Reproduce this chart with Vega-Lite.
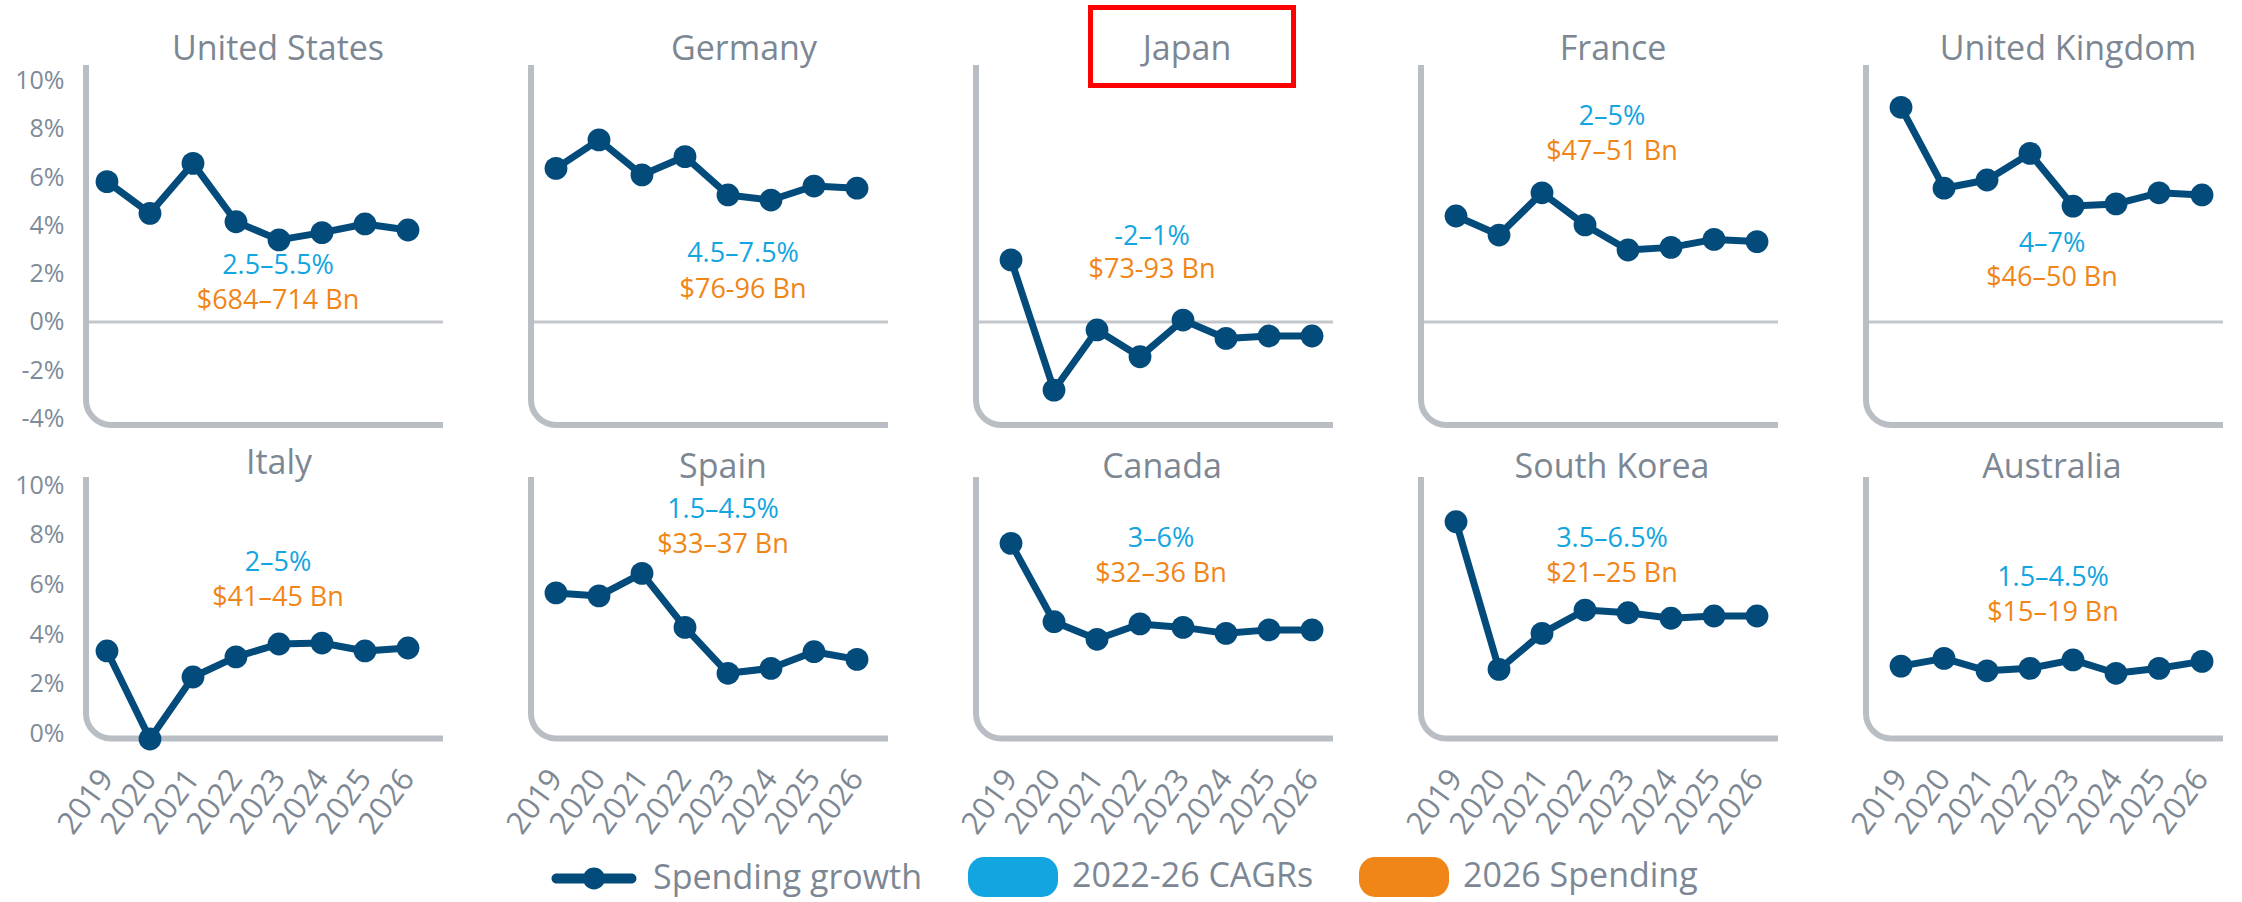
{
  "$schema": "https://vega.github.io/schema/vega-lite/v6.json",
  "background": "white",
  "padding": {"left": 14, "top": 5, "right": 5, "bottom": 5},
  "spacing": 14,
  "config": {
    "font": "Open Sans",
    "view": {"stroke": null},
    "title": {"font": "Open Sans", "fontSize": 34, "fontWeight": "normal", "color": "#7c8793", "anchor": "middle", "baseline": "alphabetic", "offset": -2},
    "axis": {"domain": false, "ticks": false, "grid": false, "labels": false, "labelFont": "Open Sans", "labelFlush": false, "labelOverlap": false},
    "line": {"color": "#034b7b", "strokeWidth": 7, "strokeCap": "round", "strokeJoin": "round"},
    "point": {"filled": true, "size": 520, "opacity": 1},
    "text": {"font": "Open Sans", "fontSize": 27, "align": "center", "baseline": "middle"}
  },
  "datasets": {
    "growth": [
      {"country": "United States", "year": 2019, "growth": 5.81}, {"country": "United States", "year": 2020, "growth": 4.5}, {"country": "United States", "year": 2021, "growth": 6.57}, {"country": "United States", "year": 2022, "growth": 4.15}, {"country": "United States", "year": 2023, "growth": 3.4}, {"country": "United States", "year": 2024, "growth": 3.7}, {"country": "United States", "year": 2025, "growth": 4.06}, {"country": "United States", "year": 2026, "growth": 3.81},
      {"country": "Germany", "year": 2019, "growth": 6.36}, {"country": "Germany", "year": 2020, "growth": 7.54}, {"country": "Germany", "year": 2021, "growth": 6.09}, {"country": "Germany", "year": 2022, "growth": 6.85}, {"country": "Germany", "year": 2023, "growth": 5.26}, {"country": "Germany", "year": 2024, "growth": 5.05}, {"country": "Germany", "year": 2025, "growth": 5.63}, {"country": "Germany", "year": 2026, "growth": 5.54},
      {"country": "Japan", "year": 2019, "growth": 2.57}, {"country": "Japan", "year": 2020, "growth": -2.82}, {"country": "Japan", "year": 2021, "growth": -0.33}, {"country": "Japan", "year": 2022, "growth": -1.44}, {"country": "Japan", "year": 2023, "growth": 0.08}, {"country": "Japan", "year": 2024, "growth": -0.68}, {"country": "Japan", "year": 2025, "growth": -0.58}, {"country": "Japan", "year": 2026, "growth": -0.58},
      {"country": "France", "year": 2019, "growth": 4.39}, {"country": "France", "year": 2020, "growth": 3.6}, {"country": "France", "year": 2021, "growth": 5.35}, {"country": "France", "year": 2022, "growth": 4.02}, {"country": "France", "year": 2023, "growth": 2.98}, {"country": "France", "year": 2024, "growth": 3.09}, {"country": "France", "year": 2025, "growth": 3.42}, {"country": "France", "year": 2026, "growth": 3.33},
      {"country": "United Kingdom", "year": 2019, "growth": 8.89}, {"country": "United Kingdom", "year": 2020, "growth": 5.54}, {"country": "United Kingdom", "year": 2021, "growth": 5.88}, {"country": "United Kingdom", "year": 2022, "growth": 6.98}, {"country": "United Kingdom", "year": 2023, "growth": 4.8}, {"country": "United Kingdom", "year": 2024, "growth": 4.89}, {"country": "United Kingdom", "year": 2025, "growth": 5.35}, {"country": "United Kingdom", "year": 2026, "growth": 5.26},
      {"country": "Italy", "year": 2019, "growth": 3.32}, {"country": "Italy", "year": 2020, "growth": -0.23}, {"country": "Italy", "year": 2021, "growth": 2.27}, {"country": "Italy", "year": 2022, "growth": 3.08}, {"country": "Italy", "year": 2023, "growth": 3.6}, {"country": "Italy", "year": 2024, "growth": 3.64}, {"country": "Italy", "year": 2025, "growth": 3.32}, {"country": "Italy", "year": 2026, "growth": 3.44},
      {"country": "Spain", "year": 2019, "growth": 5.66}, {"country": "Spain", "year": 2020, "growth": 5.54}, {"country": "Spain", "year": 2021, "growth": 6.45}, {"country": "Spain", "year": 2022, "growth": 4.27}, {"country": "Spain", "year": 2023, "growth": 2.42}, {"country": "Spain", "year": 2024, "growth": 2.62}, {"country": "Spain", "year": 2025, "growth": 3.29}, {"country": "Spain", "year": 2026, "growth": 2.98},
      {"country": "Canada", "year": 2019, "growth": 7.66}, {"country": "Canada", "year": 2020, "growth": 4.5}, {"country": "Canada", "year": 2021, "growth": 3.79}, {"country": "Canada", "year": 2022, "growth": 4.41}, {"country": "Canada", "year": 2023, "growth": 4.27}, {"country": "Canada", "year": 2024, "growth": 4.03}, {"country": "Canada", "year": 2025, "growth": 4.17}, {"country": "Canada", "year": 2026, "growth": 4.17},
      {"country": "South Korea", "year": 2019, "growth": 8.53}, {"country": "South Korea", "year": 2020, "growth": 2.58}, {"country": "South Korea", "year": 2021, "growth": 4.03}, {"country": "South Korea", "year": 2022, "growth": 4.97}, {"country": "South Korea", "year": 2023, "growth": 4.86}, {"country": "South Korea", "year": 2024, "growth": 4.64}, {"country": "South Korea", "year": 2025, "growth": 4.73}, {"country": "South Korea", "year": 2026, "growth": 4.73},
      {"country": "Australia", "year": 2019, "growth": 2.71}, {"country": "Australia", "year": 2020, "growth": 3.02}, {"country": "Australia", "year": 2021, "growth": 2.52}, {"country": "Australia", "year": 2022, "growth": 2.62}, {"country": "Australia", "year": 2023, "growth": 2.96}, {"country": "Australia", "year": 2024, "growth": 2.42}, {"country": "Australia", "year": 2025, "growth": 2.62}, {"country": "Australia", "year": 2026, "growth": 2.9}
    ],
    "notes": [
      {"country": "United States", "cagr": "2.5–5.5%", "spending": "$684–714 Bn"},
      {"country": "Germany", "cagr": "4.5–7.5%", "spending": "$76-96 Bn"},
      {"country": "Japan", "cagr": "-2–1%", "spending": "$73-93 Bn"},
      {"country": "France", "cagr": "2–5%", "spending": "$47–51 Bn"},
      {"country": "United Kingdom", "cagr": "4–7%", "spending": "$46–50 Bn"},
      {"country": "Italy", "cagr": "2–5%", "spending": "$41–45 Bn"},
      {"country": "Spain", "cagr": "1.5–4.5%", "spending": "$33–37 Bn"},
      {"country": "Canada", "cagr": "3–6%", "spending": "$32–36 Bn"},
      {"country": "South Korea", "cagr": "3.5–6.5%", "spending": "$21–25 Bn"},
      {"country": "Australia", "cagr": "1.5–4.5%", "spending": "$15–19 Bn"}
    ]
  },
  "vconcat": [
    {
      "bounds": "flush",
      "spacing": 85,
      "hconcat": [
        {
          "width": 360, "height": 363,
          "title": {"text": "United States", "dx": 15},
          "layer": [
            {"data": {"values": [{}]}, "mark": {"type": "rule", "color": "#c3c7cc", "strokeWidth": 3}, "encoding": {"y": {"datum": 0, "type": "quantitative"}}},
            {"data": {"values": [{}]}, "mark": {"type": "rect", "filled": false, "stroke": "#b9bec4", "strokeWidth": 6, "cornerRadiusBottomLeft": 25, "clip": true},
             "encoding": {"x": {"datum": 2018.512, "type": "quantitative", "scale": {"domain": [2018.442, 2026.814], "nice": false, "zero": false}}, "x2": {"datum": 2040}, "y": {"datum": -4.265, "type": "quantitative", "scale": {"domain": [-4.39, 10.642], "nice": false, "zero": false}}, "y2": {"datum": 40}}},
            {"data": {"name": "growth"}, "transform": [{"filter": "datum.country === 'United States'"}], "mark": "line",
             "encoding": {"x": {"field": "year", "type": "quantitative", "title": null}, "y": {"field": "growth", "type": "quantitative", "title": null, "axis": {"labels": true, "values": [-4, -2, 0, 2, 4, 6, 8, 10], "labelExpr": "datum.value + '%'", "labelFontSize": 25, "labelColor": "#7e8b98", "labelPadding": 19}}}},
            {"data": {"name": "growth"}, "transform": [{"filter": "datum.country === 'United States'"}], "mark": "point",
             "encoding": {"x": {"field": "year", "type": "quantitative", "title": null}, "y": {"field": "growth", "type": "quantitative", "title": null},
               "color": {"datum": "Spending growth", "scale": {"domain": ["Spending growth", "2022-26 CAGRs", "2026 Spending"], "range": ["#034b7b", "#12a5e0", "#f08518"]},
                 "legend": {"title": null, "orient": "none", "legendX": 466, "legendY": 767, "direction": "horizontal", "columns": 3, "symbolSize": 8100, "labelFontSize": 34, "labelColor": "#7c8793", "labelFont": "Open Sans", "labelOffset": 14, "columnPadding": 44, "padding": 0, "labelLimit": 0,
                   "encode": {"symbols": {"update": {"shape": {"signal": "datum.value === 'Spending growth' ? 'M-0.833,-0.111H0.833A0.111,0.111,0,0,1,0.833,0.111H-0.833A0.111,0.111,0,0,1,-0.833,-0.111ZM0.244,0A0.244,0.244,0,1,1,-0.244,0A0.244,0.244,0,1,1,0.244,0Z' : 'M-0.64,-0.444H0.64A0.36,0.36,0,0,1,1,-0.084V0.084A0.36,0.36,0,0,1,0.64,0.444H-0.64A0.36,0.36,0,0,1,-1,0.084V-0.084A0.36,0.36,0,0,1,-0.64,-0.444Z'"}, "fill": {"scale": "color", "field": "value"}, "strokeWidth": {"value": 0}, "opacity": {"value": 1}}}}}}}},
            {"data": {"name": "notes"}, "transform": [{"filter": "datum.country === 'United States'"}], "mark": "text",
             "encoding": {"x": {"datum": 2022.977, "type": "quantitative"}, "y": {"datum": 2.32, "type": "quantitative"}, "text": {"field": "cagr"}, "color": {"datum": "2022-26 CAGRs"}}},
            {"data": {"name": "notes"}, "transform": [{"filter": "datum.country === 'United States'"}], "mark": "text",
             "encoding": {"x": {"datum": 2022.977, "type": "quantitative"}, "y": {"datum": 0.87, "type": "quantitative"}, "text": {"field": "spending"}, "color": {"datum": "2026 Spending"}}}
          ]
        },
        {
          "width": 360, "height": 363,
          "title": {"text": "Germany", "dx": 36},
          "layer": [
            {"data": {"values": [{}]}, "mark": {"type": "rule", "color": "#c3c7cc", "strokeWidth": 3}, "encoding": {"y": {"datum": 0, "type": "quantitative"}}},
            {"data": {"values": [{}]}, "mark": {"type": "rect", "filled": false, "stroke": "#b9bec4", "strokeWidth": 6, "cornerRadiusBottomLeft": 25, "clip": true},
             "encoding": {"x": {"datum": 2018.419, "type": "quantitative", "scale": {"domain": [2018.349, 2026.721], "nice": false, "zero": false}}, "x2": {"datum": 2040}, "y": {"datum": -4.265, "type": "quantitative", "scale": {"domain": [-4.39, 10.642], "nice": false, "zero": false}}, "y2": {"datum": 40}}},
            {"data": {"name": "growth"}, "transform": [{"filter": "datum.country === 'Germany'"}], "mark": "line",
             "encoding": {"x": {"field": "year", "type": "quantitative", "title": null}, "y": {"field": "growth", "type": "quantitative", "title": null}}},
            {"data": {"name": "growth"}, "transform": [{"filter": "datum.country === 'Germany'"}], "mark": "point",
             "encoding": {"x": {"field": "year", "type": "quantitative", "title": null}, "y": {"field": "growth", "type": "quantitative", "title": null}, "color": {"datum": "Spending growth"}}},
            {"data": {"name": "notes"}, "transform": [{"filter": "datum.country === 'Germany'"}], "mark": "text",
             "encoding": {"x": {"datum": 2023.349, "type": "quantitative"}, "y": {"datum": 2.82, "type": "quantitative"}, "text": {"field": "cagr"}, "color": {"datum": "2022-26 CAGRs"}}},
            {"data": {"name": "notes"}, "transform": [{"filter": "datum.country === 'Germany'"}], "mark": "text",
             "encoding": {"x": {"datum": 2023.349, "type": "quantitative"}, "y": {"datum": 1.32, "type": "quantitative"}, "text": {"field": "spending"}, "color": {"datum": "2026 Spending"}}}
          ]
        },
        {
          "width": 360, "height": 363,
          "title": {"text": "Japan", "dx": 34, "offset": -62},
          "layer": [
            {"data": {"values": [{}]}, "mark": {"type": "rule", "color": "#c3c7cc", "strokeWidth": 3}, "encoding": {"y": {"datum": 0, "type": "quantitative"}}},
            {"data": {"values": [{}]}, "mark": {"type": "rect", "filled": false, "stroke": "#b9bec4", "strokeWidth": 6, "cornerRadiusBottomLeft": 25, "clip": true},
             "encoding": {"x": {"datum": 2018.186, "type": "quantitative", "scale": {"domain": [2018.116, 2026.488], "nice": false, "zero": false}}, "x2": {"datum": 2040}, "y": {"datum": -4.265, "type": "quantitative", "scale": {"domain": [-4.39, 10.642], "nice": false, "zero": false}}, "y2": {"datum": 40}}},
            {"data": {"values": [{}]}, "mark": {"type": "rect", "filled": false, "stroke": "#ff0000", "strokeWidth": 5},
             "encoding": {"x": {"datum": 2020.849, "type": "quantitative"}, "x2": {"datum": 2025.57}, "y": {"datum": 13.02, "type": "quantitative"}, "y2": {"datum": 9.79}}},
            {"data": {"name": "growth"}, "transform": [{"filter": "datum.country === 'Japan'"}], "mark": "line",
             "encoding": {"x": {"field": "year", "type": "quantitative", "title": null}, "y": {"field": "growth", "type": "quantitative", "title": null}}},
            {"data": {"name": "growth"}, "transform": [{"filter": "datum.country === 'Japan'"}], "mark": "point",
             "encoding": {"x": {"field": "year", "type": "quantitative", "title": null}, "y": {"field": "growth", "type": "quantitative", "title": null}, "color": {"datum": "Spending growth"}}},
            {"data": {"name": "notes"}, "transform": [{"filter": "datum.country === 'Japan'"}], "mark": "text",
             "encoding": {"x": {"datum": 2022.279, "type": "quantitative"}, "y": {"datum": 3.52, "type": "quantitative"}, "text": {"field": "cagr"}, "color": {"datum": "2022-26 CAGRs"}}},
            {"data": {"name": "notes"}, "transform": [{"filter": "datum.country === 'Japan'"}], "mark": "text",
             "encoding": {"x": {"datum": 2022.279, "type": "quantitative"}, "y": {"datum": 2.15, "type": "quantitative"}, "text": {"field": "spending"}, "color": {"datum": "2026 Spending"}}}
          ]
        },
        {
          "width": 360, "height": 363,
          "title": {"text": "France", "dx": 15},
          "layer": [
            {"data": {"values": [{}]}, "mark": {"type": "rule", "color": "#c3c7cc", "strokeWidth": 3}, "encoding": {"y": {"datum": 0, "type": "quantitative"}}},
            {"data": {"values": [{}]}, "mark": {"type": "rect", "filled": false, "stroke": "#b9bec4", "strokeWidth": 6, "cornerRadiusBottomLeft": 25, "clip": true},
             "encoding": {"x": {"datum": 2018.186, "type": "quantitative", "scale": {"domain": [2018.116, 2026.488], "nice": false, "zero": false}}, "x2": {"datum": 2040}, "y": {"datum": -4.265, "type": "quantitative", "scale": {"domain": [-4.39, 10.642], "nice": false, "zero": false}}, "y2": {"datum": 40}}},
            {"data": {"name": "growth"}, "transform": [{"filter": "datum.country === 'France'"}], "mark": "line",
             "encoding": {"x": {"field": "year", "type": "quantitative", "title": null}, "y": {"field": "growth", "type": "quantitative", "title": null}}},
            {"data": {"name": "growth"}, "transform": [{"filter": "datum.country === 'France'"}], "mark": "point",
             "encoding": {"x": {"field": "year", "type": "quantitative", "title": null}, "y": {"field": "growth", "type": "quantitative", "title": null}, "color": {"datum": "Spending growth"}}},
            {"data": {"name": "notes"}, "transform": [{"filter": "datum.country === 'France'"}], "mark": "text",
             "encoding": {"x": {"datum": 2022.628, "type": "quantitative"}, "y": {"datum": 8.47, "type": "quantitative"}, "text": {"field": "cagr"}, "color": {"datum": "2022-26 CAGRs"}}},
            {"data": {"name": "notes"}, "transform": [{"filter": "datum.country === 'France'"}], "mark": "text",
             "encoding": {"x": {"datum": 2022.628, "type": "quantitative"}, "y": {"datum": 7.02, "type": "quantitative"}, "text": {"field": "spending"}, "color": {"datum": "2026 Spending"}}}
          ]
        },
        {
          "width": 360, "height": 363,
          "title": {"text": "United Kingdom", "dx": 25},
          "layer": [
            {"data": {"values": [{}]}, "mark": {"type": "rule", "color": "#c3c7cc", "strokeWidth": 3}, "encoding": {"y": {"datum": 0, "type": "quantitative"}}},
            {"data": {"values": [{}]}, "mark": {"type": "rect", "filled": false, "stroke": "#b9bec4", "strokeWidth": 6, "cornerRadiusBottomLeft": 25, "clip": true},
             "encoding": {"x": {"datum": 2018.186, "type": "quantitative", "scale": {"domain": [2018.116, 2026.488], "nice": false, "zero": false}}, "x2": {"datum": 2040}, "y": {"datum": -4.265, "type": "quantitative", "scale": {"domain": [-4.39, 10.642], "nice": false, "zero": false}}, "y2": {"datum": 40}}},
            {"data": {"name": "growth"}, "transform": [{"filter": "datum.country === 'United Kingdom'"}], "mark": "line",
             "encoding": {"x": {"field": "year", "type": "quantitative", "title": null}, "y": {"field": "growth", "type": "quantitative", "title": null}}},
            {"data": {"name": "growth"}, "transform": [{"filter": "datum.country === 'United Kingdom'"}], "mark": "point",
             "encoding": {"x": {"field": "year", "type": "quantitative", "title": null}, "y": {"field": "growth", "type": "quantitative", "title": null}, "color": {"datum": "Spending growth"}}},
            {"data": {"name": "notes"}, "transform": [{"filter": "datum.country === 'United Kingdom'"}], "mark": "text",
             "encoding": {"x": {"datum": 2022.512, "type": "quantitative"}, "y": {"datum": 3.23, "type": "quantitative"}, "text": {"field": "cagr"}, "color": {"datum": "2022-26 CAGRs"}}},
            {"data": {"name": "notes"}, "transform": [{"filter": "datum.country === 'United Kingdom'"}], "mark": "text",
             "encoding": {"x": {"datum": 2022.512, "type": "quantitative"}, "y": {"datum": 1.84, "type": "quantitative"}, "text": {"field": "spending"}, "color": {"datum": "2026 Spending"}}}
          ]
        }
      ]
    },
    {
      "bounds": "flush",
      "spacing": 85,
      "hconcat": [
        {
          "width": 360, "height": 265,
          "title": {"text": "Italy", "dx": 16, "offset": -7.5},
          "layer": [
            {"data": {"values": [{}]}, "mark": {"type": "rect", "filled": false, "stroke": "#b9bec4", "strokeWidth": 6, "cornerRadiusBottomLeft": 25, "clip": true},
             "encoding": {"x": {"datum": 2018.512, "type": "quantitative", "scale": {"domain": [2018.442, 2026.814], "nice": false, "zero": false}}, "x2": {"datum": 2040}, "y": {"datum": -0.21, "type": "quantitative", "scale": {"domain": [-0.351, 10.335], "nice": false, "zero": false}}, "y2": {"datum": 40}}},
            {"data": {"name": "growth"}, "transform": [{"filter": "datum.country === 'Italy'"}], "mark": "line",
             "encoding": {"x": {"field": "year", "type": "quantitative", "title": null, "axis": {"labels": true, "values": [2019, 2020, 2021, 2022, 2023, 2024, 2025, 2026], "format": "d", "labelAngle": -54, "labelAlign": "right", "labelBaseline": "middle", "labelPadding": 31, "labelFontSize": 31, "labelColor": "#7e8893"}}, "y": {"field": "growth", "type": "quantitative", "title": null, "axis": {"labels": true, "values": [0, 2, 4, 6, 8, 10], "labelExpr": "datum.value + '%'", "labelFontSize": 25, "labelColor": "#7e8b98", "labelPadding": 19}}}},
            {"data": {"name": "growth"}, "transform": [{"filter": "datum.country === 'Italy'"}], "mark": "point",
             "encoding": {"x": {"field": "year", "type": "quantitative", "title": null}, "y": {"field": "growth", "type": "quantitative", "title": null}, "color": {"datum": "Spending growth"}}},
            {"data": {"name": "notes"}, "transform": [{"filter": "datum.country === 'Italy'"}], "mark": "text",
             "encoding": {"x": {"datum": 2022.977, "type": "quantitative"}, "y": {"datum": 6.87, "type": "quantitative"}, "text": {"field": "cagr"}, "color": {"datum": "2022-26 CAGRs"}}},
            {"data": {"name": "notes"}, "transform": [{"filter": "datum.country === 'Italy'"}], "mark": "text",
             "encoding": {"x": {"datum": 2022.977, "type": "quantitative"}, "y": {"datum": 5.46, "type": "quantitative"}, "text": {"field": "spending"}, "color": {"datum": "2026 Spending"}}}
          ]
        },
        {
          "width": 360, "height": 265,
          "title": {"text": "Spain", "dx": 15, "offset": -7.5},
          "layer": [
            {"data": {"values": [{}]}, "mark": {"type": "rect", "filled": false, "stroke": "#b9bec4", "strokeWidth": 6, "cornerRadiusBottomLeft": 25, "clip": true},
             "encoding": {"x": {"datum": 2018.419, "type": "quantitative", "scale": {"domain": [2018.349, 2026.721], "nice": false, "zero": false}}, "x2": {"datum": 2040}, "y": {"datum": -0.21, "type": "quantitative", "scale": {"domain": [-0.351, 10.335], "nice": false, "zero": false}}, "y2": {"datum": 40}}},
            {"data": {"name": "growth"}, "transform": [{"filter": "datum.country === 'Spain'"}], "mark": "line",
             "encoding": {"x": {"field": "year", "type": "quantitative", "title": null, "axis": {"labels": true, "values": [2019, 2020, 2021, 2022, 2023, 2024, 2025, 2026], "format": "d", "labelAngle": -54, "labelAlign": "right", "labelBaseline": "middle", "labelPadding": 31, "labelFontSize": 31, "labelColor": "#7e8893"}}, "y": {"field": "growth", "type": "quantitative", "title": null}}},
            {"data": {"name": "growth"}, "transform": [{"filter": "datum.country === 'Spain'"}], "mark": "point",
             "encoding": {"x": {"field": "year", "type": "quantitative", "title": null}, "y": {"field": "growth", "type": "quantitative", "title": null}, "color": {"datum": "Spending growth"}}},
            {"data": {"name": "notes"}, "transform": [{"filter": "datum.country === 'Spain'"}], "mark": "text",
             "encoding": {"x": {"datum": 2022.884, "type": "quantitative"}, "y": {"datum": 9.0, "type": "quantitative"}, "text": {"field": "cagr"}, "color": {"datum": "2022-26 CAGRs"}}},
            {"data": {"name": "notes"}, "transform": [{"filter": "datum.country === 'Spain'"}], "mark": "text",
             "encoding": {"x": {"datum": 2022.884, "type": "quantitative"}, "y": {"datum": 7.59, "type": "quantitative"}, "text": {"field": "spending"}, "color": {"datum": "2026 Spending"}}}
          ]
        },
        {
          "width": 360, "height": 265,
          "title": {"text": "Canada", "dx": 9, "offset": -7.5},
          "layer": [
            {"data": {"values": [{}]}, "mark": {"type": "rect", "filled": false, "stroke": "#b9bec4", "strokeWidth": 6, "cornerRadiusBottomLeft": 25, "clip": true},
             "encoding": {"x": {"datum": 2018.186, "type": "quantitative", "scale": {"domain": [2018.116, 2026.488], "nice": false, "zero": false}}, "x2": {"datum": 2040}, "y": {"datum": -0.21, "type": "quantitative", "scale": {"domain": [-0.351, 10.335], "nice": false, "zero": false}}, "y2": {"datum": 40}}},
            {"data": {"name": "growth"}, "transform": [{"filter": "datum.country === 'Canada'"}], "mark": "line",
             "encoding": {"x": {"field": "year", "type": "quantitative", "title": null, "axis": {"labels": true, "values": [2019, 2020, 2021, 2022, 2023, 2024, 2025, 2026], "format": "d", "labelAngle": -54, "labelAlign": "right", "labelBaseline": "middle", "labelPadding": 31, "labelFontSize": 31, "labelColor": "#7e8893"}}, "y": {"field": "growth", "type": "quantitative", "title": null}}},
            {"data": {"name": "growth"}, "transform": [{"filter": "datum.country === 'Canada'"}], "mark": "point",
             "encoding": {"x": {"field": "year", "type": "quantitative", "title": null}, "y": {"field": "growth", "type": "quantitative", "title": null}, "color": {"datum": "Spending growth"}}},
            {"data": {"name": "notes"}, "transform": [{"filter": "datum.country === 'Canada'"}], "mark": "text",
             "encoding": {"x": {"datum": 2022.488, "type": "quantitative"}, "y": {"datum": 7.83, "type": "quantitative"}, "text": {"field": "cagr"}, "color": {"datum": "2022-26 CAGRs"}}},
            {"data": {"name": "notes"}, "transform": [{"filter": "datum.country === 'Canada'"}], "mark": "text",
             "encoding": {"x": {"datum": 2022.488, "type": "quantitative"}, "y": {"datum": 6.42, "type": "quantitative"}, "text": {"field": "spending"}, "color": {"datum": "2026 Spending"}}}
          ]
        },
        {
          "width": 360, "height": 265,
          "title": {"text": "South Korea", "dx": 14, "offset": -7.5},
          "layer": [
            {"data": {"values": [{}]}, "mark": {"type": "rect", "filled": false, "stroke": "#b9bec4", "strokeWidth": 6, "cornerRadiusBottomLeft": 25, "clip": true},
             "encoding": {"x": {"datum": 2018.186, "type": "quantitative", "scale": {"domain": [2018.116, 2026.488], "nice": false, "zero": false}}, "x2": {"datum": 2040}, "y": {"datum": -0.21, "type": "quantitative", "scale": {"domain": [-0.351, 10.335], "nice": false, "zero": false}}, "y2": {"datum": 40}}},
            {"data": {"name": "growth"}, "transform": [{"filter": "datum.country === 'South Korea'"}], "mark": "line",
             "encoding": {"x": {"field": "year", "type": "quantitative", "title": null, "axis": {"labels": true, "values": [2019, 2020, 2021, 2022, 2023, 2024, 2025, 2026], "format": "d", "labelAngle": -54, "labelAlign": "right", "labelBaseline": "middle", "labelPadding": 31, "labelFontSize": 31, "labelColor": "#7e8893"}}, "y": {"field": "growth", "type": "quantitative", "title": null}}},
            {"data": {"name": "growth"}, "transform": [{"filter": "datum.country === 'South Korea'"}], "mark": "point",
             "encoding": {"x": {"field": "year", "type": "quantitative", "title": null}, "y": {"field": "growth", "type": "quantitative", "title": null}, "color": {"datum": "Spending growth"}}},
            {"data": {"name": "notes"}, "transform": [{"filter": "datum.country === 'South Korea'"}], "mark": "text",
             "encoding": {"x": {"datum": 2022.628, "type": "quantitative"}, "y": {"datum": 7.83, "type": "quantitative"}, "text": {"field": "cagr"}, "color": {"datum": "2022-26 CAGRs"}}},
            {"data": {"name": "notes"}, "transform": [{"filter": "datum.country === 'South Korea'"}], "mark": "text",
             "encoding": {"x": {"datum": 2022.628, "type": "quantitative"}, "y": {"datum": 6.42, "type": "quantitative"}, "text": {"field": "spending"}, "color": {"datum": "2026 Spending"}}}
          ]
        },
        {
          "width": 360, "height": 265,
          "title": {"text": "Australia", "dx": 9, "offset": -7.5},
          "layer": [
            {"data": {"values": [{}]}, "mark": {"type": "rect", "filled": false, "stroke": "#b9bec4", "strokeWidth": 6, "cornerRadiusBottomLeft": 25, "clip": true},
             "encoding": {"x": {"datum": 2018.186, "type": "quantitative", "scale": {"domain": [2018.116, 2026.488], "nice": false, "zero": false}}, "x2": {"datum": 2040}, "y": {"datum": -0.21, "type": "quantitative", "scale": {"domain": [-0.351, 10.335], "nice": false, "zero": false}}, "y2": {"datum": 40}}},
            {"data": {"name": "growth"}, "transform": [{"filter": "datum.country === 'Australia'"}], "mark": "line",
             "encoding": {"x": {"field": "year", "type": "quantitative", "title": null, "axis": {"labels": true, "values": [2019, 2020, 2021, 2022, 2023, 2024, 2025, 2026], "format": "d", "labelAngle": -54, "labelAlign": "right", "labelBaseline": "middle", "labelPadding": 31, "labelFontSize": 31, "labelColor": "#7e8893"}}, "y": {"field": "growth", "type": "quantitative", "title": null}}},
            {"data": {"name": "growth"}, "transform": [{"filter": "datum.country === 'Australia'"}], "mark": "point",
             "encoding": {"x": {"field": "year", "type": "quantitative", "title": null}, "y": {"field": "growth", "type": "quantitative", "title": null}, "color": {"datum": "Spending growth"}}},
            {"data": {"name": "notes"}, "transform": [{"filter": "datum.country === 'Australia'"}], "mark": "text",
             "encoding": {"x": {"datum": 2022.535, "type": "quantitative"}, "y": {"datum": 6.26, "type": "quantitative"}, "text": {"field": "cagr"}, "color": {"datum": "2022-26 CAGRs"}}},
            {"data": {"name": "notes"}, "transform": [{"filter": "datum.country === 'Australia'"}], "mark": "text",
             "encoding": {"x": {"datum": 2022.535, "type": "quantitative"}, "y": {"datum": 4.85, "type": "quantitative"}, "text": {"field": "spending"}, "color": {"datum": "2026 Spending"}}}
          ]
        }
      ]
    }
  ]
}
